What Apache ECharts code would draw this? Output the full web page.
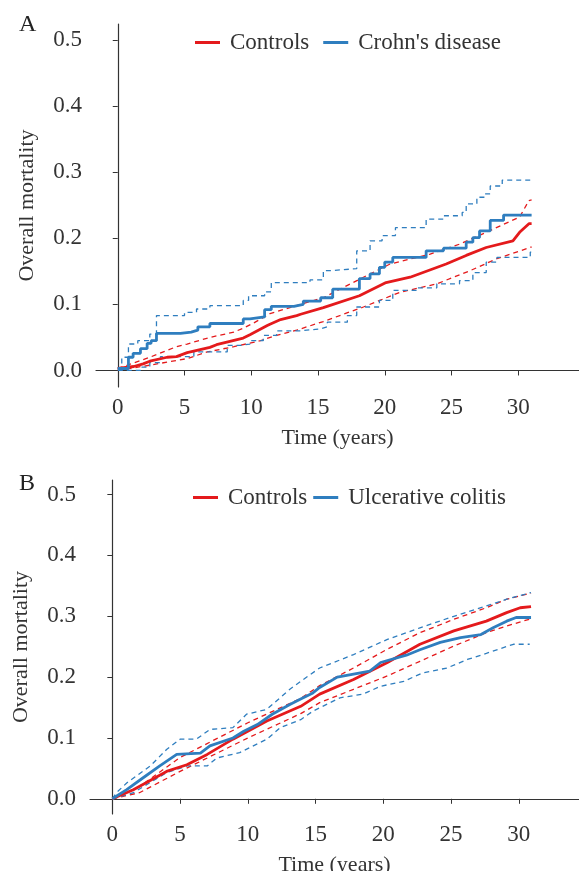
<!DOCTYPE html>
<html>
<head>
<meta charset="utf-8">
<script src="https://cdn.jsdelivr.net/npm/echarts@6/dist/echarts.min.js"></script>
<style>
html, body { margin: 0; padding: 0; background: #fff; }
#main { width: 579px; height: 871px; }
</style>
</head>
<body>
<div id="main"></div>
<script>
// tick labels
var xTicks = [0, 5, 10, 15, 20, 25, 30];
var yTicks = [0, 0.1, 0.2, 0.3, 0.4, 0.5];

// A: controls vs Crohn's disease  [time, mortality]
var ctrlA = [[0,0.003],[1.2,0.006],[1.9,0.01],[2.4,0.014],[3.7,0.02],[4.4,0.021],[5.2,0.027],[6.9,0.035],[7.4,0.039],[9.4,0.049],[9.9,0.054],[11.2,0.068],[11.4,0.07],[12.2,0.077],[13.4,0.083],[13.7,0.085],[15.4,0.095],[18.1,0.113],[20.1,0.133],[21.9,0.141],[24.6,0.161],[26.1,0.174],[27.6,0.186],[29.6,0.196],[30.1,0.209],[30.8,0.222],[31,0.222]];
var ctrlAUp = [[0,0.003],[2.4,0.02],[4.4,0.036],[5.2,0.04],[6.9,0.05],[8.7,0.058],[9.4,0.064],[10.2,0.072],[11.4,0.086],[13.7,0.1],[15.4,0.11],[18.4,0.141],[20.4,0.161],[23.4,0.176],[25.6,0.191],[27.6,0.209],[30.1,0.232],[30.8,0.257],[31,0.258]];
var ctrlALo = [[0,0.0],[2.4,0.008],[5.2,0.018],[6.7,0.028],[8.7,0.036],[10.7,0.045],[11.7,0.052],[13.4,0.061],[15.4,0.074],[18.4,0.096],[21.1,0.118],[23.9,0.131],[26.4,0.151],[28.4,0.169],[30.9,0.186],[31,0.187]];
var cdA = [[0,0.003],[0.8,0.02],[1.15,0.026],[1.7,0.033],[2.2,0.041],[2.5,0.045],[2.9,0.056],[4.7,0.058],[5.5,0.061],[6.0,0.066],[6.9,0.071],[9.4,0.078],[9.9,0.081],[11.0,0.092],[11.5,0.097],[13.2,0.1],[13.9,0.105],[15.2,0.11],[16.1,0.123],[18.1,0.139],[18.9,0.146],[19.6,0.156],[20.0,0.164],[20.6,0.171],[23.1,0.181],[24.4,0.185],[26.1,0.194],[26.6,0.201],[27.1,0.211],[27.9,0.227],[28.9,0.235],[31.0,0.235]];
var cdAUp = [[0,0.003],[0.3,0.02],[0.8,0.04],[1.5,0.045],[2.4,0.055],[2.9,0.083],[5.0,0.088],[5.9,0.093],[6.9,0.098],[9.4,0.106],[9.8,0.113],[11.0,0.119],[11.5,0.133],[14.4,0.137],[15.4,0.151],[16.0,0.154],[17.9,0.181],[18.9,0.196],[19.8,0.204],[20.8,0.216],[23.1,0.229],[24.4,0.234],[25.8,0.239],[26.1,0.252],[26.9,0.262],[27.5,0.267],[27.9,0.279],[28.8,0.288],[31,0.288]];
var cdALo = [[0,0.0],[1.7,0.005],[2.4,0.012],[3.2,0.021],[5.7,0.028],[8.2,0.038],[9.2,0.04],[9.9,0.045],[10.9,0.053],[11.9,0.06],[13.7,0.063],[15.2,0.066],[15.7,0.073],[17.2,0.083],[17.9,0.096],[19.6,0.106],[20.6,0.121],[22.4,0.125],[23.9,0.131],[25.6,0.136],[26.6,0.148],[27.6,0.164],[28.4,0.171],[30.9,0.179],[31,0.179]];

// B: controls vs ulcerative colitis
var ctrlB = [[0,0],[1.55,0.015],[4,0.045],[5.5,0.056],[7,0.073],[8.9,0.098],[11.4,0.128],[13.9,0.152],[15.3,0.172],[17.8,0.196],[20.3,0.224],[22.7,0.254],[25.2,0.276],[27.6,0.292],[29.1,0.306],[30.1,0.314],[30.9,0.316]];
var ctrlBUp = [[0,0],[2,0.02],[5,0.068],[10,0.125],[13.9,0.165],[15.3,0.186],[17.8,0.215],[20.3,0.246],[22.7,0.273],[25.2,0.295],[27.6,0.314],[29.1,0.328],[30.9,0.338]];
var ctrlBLo = [[0,0],[2,0.01],[5,0.045],[10,0.1],[13.9,0.14],[15.3,0.158],[17.8,0.18],[20.3,0.202],[22.7,0.226],[25.2,0.251],[27.6,0.273],[29.1,0.284],[30.9,0.296]];
var ucB = [[0,0],[1.06,0.015],[2.3,0.035],[3.5,0.054],[4.75,0.073],[6.5,0.075],[7.2,0.087],[8.9,0.1],[9.7,0.111],[10.7,0.122],[11.8,0.139],[13.1,0.155],[13.9,0.164],[14.8,0.174],[15.3,0.183],[16.6,0.2],[19.0,0.21],[19.8,0.224],[21.7,0.236],[22.7,0.245],[24.2,0.257],[25.7,0.265],[27.2,0.27],[28.1,0.281],[29.1,0.292],[29.8,0.298],[30.9,0.298]];
var ucBUp = [[0,0],[0.3,0.01],[1.06,0.026],[2.8,0.054],[4,0.081],[5,0.098],[6.2,0.098],[7.2,0.114],[8.9,0.117],[9.9,0.139],[11.4,0.147],[13.1,0.18],[13.9,0.193],[15.3,0.215],[17.8,0.237],[20.3,0.262],[22.7,0.281],[25.2,0.3],[27.6,0.317],[29.1,0.328],[30.9,0.339]];
var ucBLo = [[0,0],[1.55,0.01],[4,0.043],[5.5,0.054],[7,0.054],[7.7,0.067],[9.4,0.076],[11.4,0.098],[12.4,0.117],[13.9,0.13],[14.8,0.144],[16.8,0.166],[18.5,0.172],[19.8,0.185],[21.5,0.193],[22.9,0.207],[24.7,0.215],[26.2,0.229],[27.6,0.239],[29.6,0.254],[30.8,0.254]];

var RED = '#E41A1C';
var BLUE = '#2F7EBF';
var FONT = 'Liberation Serif';

var myChart = echarts.init(document.getElementById('main'));

function estLine(name, data, color, gi, step) {
    return {
        name: name, type: 'line', data: data,
        xAxisIndex: gi, yAxisIndex: gi,
        symbol: 'none', step: step ? 'end' : false,
        lineStyle: { color: color, width: 2.8 },
        itemStyle: { color: color },
        z: 3
    };
}
function ciLine(name, data, color, gi, step) {
    return {
        name: name, type: 'line', data: data,
        xAxisIndex: gi, yAxisIndex: gi,
        symbol: 'none', step: step ? 'end' : false,
        lineStyle: { color: color, width: 1.3, type: [5, 4] },
        itemStyle: { color: color },
        silent: true, z: 2
    };
}

var axisText = { color: '#333', fontFamily: FONT, fontSize: 23 };

function xAx(gi, min, max, gap) {
    return {
        type: 'value', gridIndex: gi, min: min, max: max,
        name: 'Time (years)', nameLocation: 'middle', nameGap: gap,
        nameTextStyle: { color: '#333', fontFamily: FONT, fontSize: 22 },
        axisLine: { show: true, lineStyle: { color: '#333', width: 1.2 } },
        axisTick: { show: true, length: 5, customValues: xTicks, lineStyle: { color: '#333' } },
        axisLabel: Object.assign({ margin: 9, customValues: xTicks }, axisText),
        splitLine: { show: false }
    };
}
function yAx(gi) {
    return {
        type: 'value', gridIndex: gi, min: -0.025, max: 0.524,
        name: 'Overall mortality', nameLocation: 'middle', nameGap: 58,
        nameTextStyle: { color: '#333', fontFamily: FONT, fontSize: 22 },
        axisLine: { show: true, lineStyle: { color: '#333', width: 1.2 } },
        axisTick: { show: true, length: 5, customValues: yTicks, lineStyle: { color: '#333' } },
        axisLabel: Object.assign({
            margin: 14, customValues: yTicks,
            formatter: function (v) { return v.toFixed(1); }
        }, axisText),
        splitLine: { show: false }
    };
}

var legendText = { color: '#333', fontFamily: FONT, fontSize: 23, lineHeight: 22, padding: [0, 0, 0, 5] };

var option = {
    animation: false,
    backgroundColor: '#fff',
    title: [
        { text: 'A', left: 14, top: 8, textStyle: { color: '#222', fontFamily: FONT, fontSize: 24, fontWeight: 'normal' } },
        { text: 'B', left: 14, top: 467, textStyle: { color: '#222', fontFamily: FONT, fontSize: 24, fontWeight: 'normal' } }
    ],
    legend: [
        {
            data: ['Controls', "Crohn's disease"], left: 190, top: 26,
            icon: 'rect', itemWidth: 25, itemHeight: 3, itemGap: 14,
            textStyle: legendText
        },
        {
            data: ['Controls', 'Ulcerative colitis'], left: 188, top: 481,
            icon: 'rect', itemWidth: 25, itemHeight: 3, itemGap: 6,
            textStyle: legendText
        }
    ],
    grid: [
        { left: 96, top: 24, width: 483, height: 363, outerBoundsMode: 'none' },
        { left: 90, top: 480, width: 489, height: 334, outerBoundsMode: 'none' }
    ],
    xAxis: [xAx(0, -1.63, 34.55, 40), xAx(1, -1.65, 34.44, 40)],
    yAxis: [yAx(0), yAx(1)],
    series: [
        ciLine('Controls CI up', ctrlAUp, RED, 0, false),
        ciLine('Controls CI low', ctrlALo, RED, 0, false),
        ciLine('CD CI up', cdAUp, BLUE, 0, true),
        ciLine('CD CI low', cdALo, BLUE, 0, true),
        estLine('Controls', ctrlA, RED, 0, false),
        estLine("Crohn's disease", cdA, BLUE, 0, true),

        ciLine('Controls CI up B', ctrlBUp, RED, 1, false),
        ciLine('Controls CI low B', ctrlBLo, RED, 1, false),
        ciLine('UC CI up', ucBUp, BLUE, 1, false),
        ciLine('UC CI low', ucBLo, BLUE, 1, false),
        estLine('Controls', ctrlB, RED, 1, false),
        estLine('Ulcerative colitis', ucB, BLUE, 1, false)
    ]
};

window.addEventListener("resize", function () {
    myChart.resize();
});

myChart.setOption(option);
</script>
</body>
</html>
